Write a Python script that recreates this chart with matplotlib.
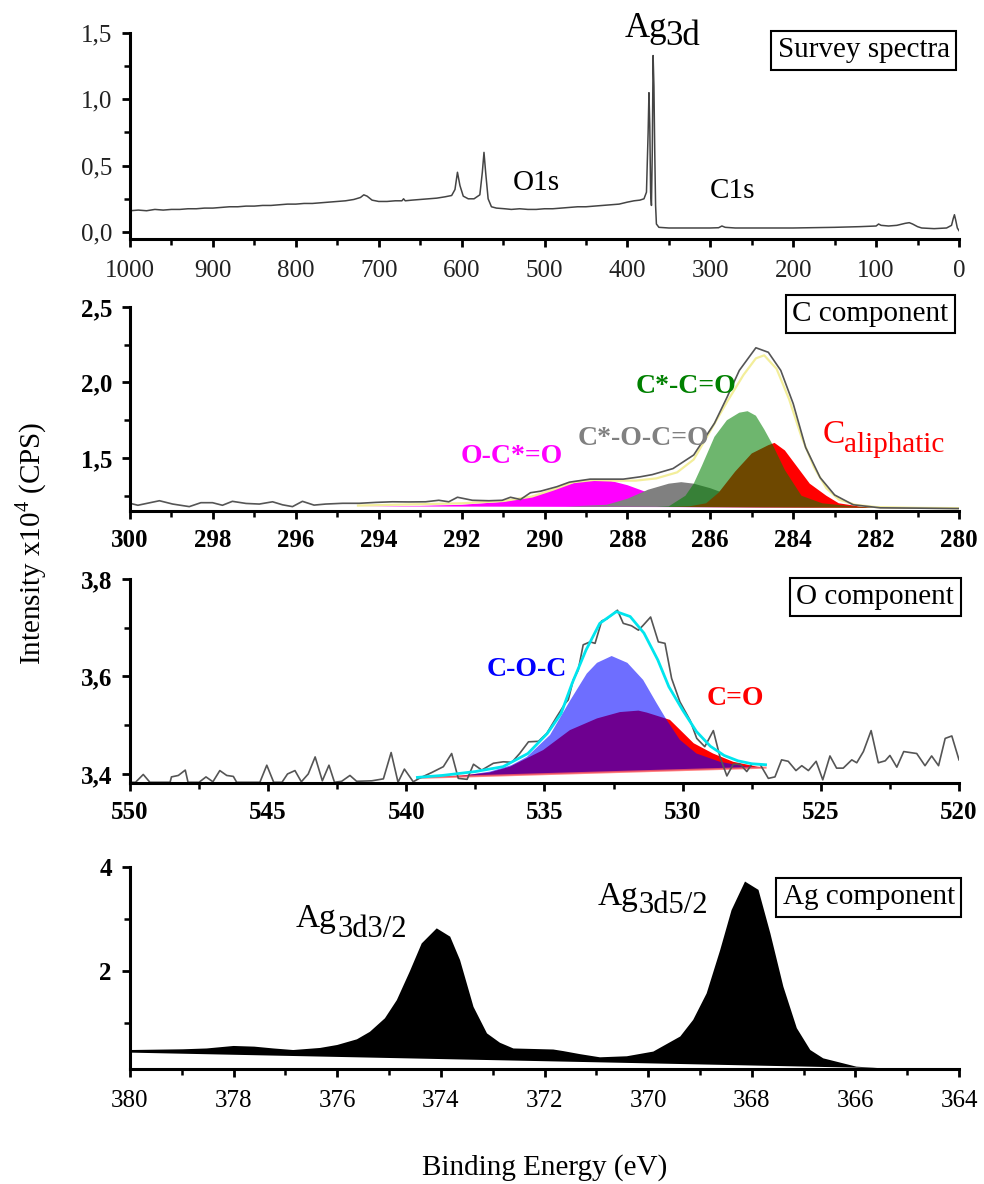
import numpy as np
import matplotlib
matplotlib.use('Agg')
import matplotlib.pyplot as plt
from matplotlib.ticker import MultipleLocator, FixedLocator

plt.rcParams['font.family'] = ['Liberation Serif', 'DejaVu Serif']
plt.rcParams['mathtext.fontset'] = 'custom'
plt.rcParams['mathtext.rm'] = 'Liberation Serif'

# ---- Survey spectrum
sv_x = [1000, 990, 980, 970, 960, 950, 940, 930, 920, 910, 900, 890, 880, 870, 860, 850,
        840, 830, 820, 810, 800, 790, 780, 770, 760, 750, 740, 730, 722, 718, 714, 708,
        700, 690, 680, 672, 670, 668, 660, 650, 640, 630, 620, 612, 608, 605, 602, 598,
        592, 585, 578, 575, 573, 571, 568, 564, 558, 548, 540, 530, 520, 510, 500, 490,
        480, 470, 460, 450, 440, 430, 420, 410, 400, 392, 385, 380, 377, 375, 374, 373,
        372, 371, 370, 369, 368, 367, 366, 365, 362, 350, 330, 300, 290, 286, 282, 270,
        250, 200, 150, 120, 100, 97, 94, 85, 75, 65, 60, 56, 50, 45, 30, 15, 9, 7, 5.5,
        4, 2, 0]
sv_y = [0.16, 0.165, 0.16, 0.17, 0.165, 0.17, 0.17, 0.175, 0.175, 0.18, 0.18, 0.185, 0.19,
        0.19, 0.195, 0.195, 0.20, 0.20, 0.205, 0.21, 0.21, 0.215, 0.215, 0.22, 0.225, 0.23,
        0.235, 0.245, 0.26, 0.28, 0.27, 0.24, 0.23, 0.23, 0.235, 0.235, 0.25, 0.235, 0.24,
        0.245, 0.25, 0.255, 0.265, 0.275, 0.32, 0.45, 0.35, 0.27, 0.25, 0.25, 0.28, 0.45,
        0.60, 0.45, 0.25, 0.19, 0.18, 0.175, 0.17, 0.175, 0.17, 0.17, 0.175, 0.175, 0.18,
        0.185, 0.19, 0.19, 0.195, 0.20, 0.205, 0.21, 0.225, 0.235, 0.24, 0.25, 0.30, 0.75,
        1.05, 0.80, 0.30, 0.20, 0.60, 1.33, 1.10, 0.60, 0.20, 0.06, 0.035, 0.03, 0.03, 0.03,
        0.032, 0.045, 0.035, 0.03, 0.03, 0.03, 0.035, 0.04, 0.045, 0.06, 0.05, 0.045, 0.05,
        0.065, 0.07, 0.06, 0.04, 0.03, 0.025, 0.03, 0.05, 0.10, 0.13, 0.09, 0.03, 0.01]

# ---- C 1s region
c_raw_x = [300.0, 299.81, 299.29, 298.97, 298.57, 298.29, 298.01, 297.77, 297.53, 297.2,
           296.88, 296.56, 296.32, 296.08, 295.84, 295.56, 295.28, 294.87, 294.47, 294.07,
           293.67, 293.27, 292.87, 292.55, 292.31, 292.1, 291.74, 291.34, 291.02, 290.82,
           290.58, 290.34, 290.1, 289.7, 289.4, 288.9, 288.5, 288.1, 287.7, 287.4, 286.9,
           286.4, 285.9, 285.6, 285.3, 284.9, 284.6, 284.3, 284.0, 283.7, 283.35, 283.0,
           282.55, 281.9, 281.0, 280.0]
c_raw_y = [1.20, 1.187, 1.217, 1.195, 1.178, 1.204, 1.204, 1.187, 1.213, 1.199, 1.195,
           1.21, 1.19, 1.178, 1.213, 1.188, 1.195, 1.20, 1.20, 1.206, 1.21, 1.209, 1.21,
           1.22, 1.21, 1.24, 1.22, 1.217, 1.22, 1.24, 1.225, 1.27, 1.28, 1.31, 1.34, 1.36,
           1.36, 1.36, 1.375, 1.39, 1.43, 1.52, 1.73, 1.90, 2.08, 2.23, 2.20, 2.08, 1.86,
           1.57, 1.37, 1.255, 1.19, 1.17, 1.168, 1.165]
c_fit_x = [294.5, 292.0, 291.0, 290.3, 289.8, 289.3, 288.8, 288.3, 287.8, 287.3, 286.8,
           286.4, 286.0, 285.6, 285.2, 284.9, 284.7, 284.4, 284.1, 283.8, 283.5, 283.2,
           282.9, 282.5, 282.0, 281.0, 280.0]
c_fit_y = [1.185, 1.20, 1.215, 1.245, 1.29, 1.34, 1.355, 1.35, 1.35, 1.365, 1.405, 1.49,
           1.68, 1.87, 2.05, 2.16, 2.18, 2.09, 1.89, 1.64, 1.44, 1.30, 1.225, 1.19, 1.175,
           1.17, 1.168]
ocoo_x = [294.5, 293.0, 292.0, 291.0, 290.5, 290.0, 289.5, 289.0, 288.8, 288.5, 288.0,
          287.5, 287.0, 286.5, 286.0, 285.0, 283.0]
ocoo_y = [1.18, 1.183, 1.19, 1.21, 1.235, 1.27, 1.32, 1.355, 1.36, 1.355, 1.32, 1.27,
          1.225, 1.195, 1.182, 1.176, 1.172]
coco_x = [289.5, 288.5, 288.0, 287.5, 287.0, 286.7, 286.4, 286.0, 285.5, 285.0, 284.5,
          284.0, 283.0]
coco_y = [1.178, 1.19, 1.23, 1.29, 1.33, 1.34, 1.33, 1.30, 1.25, 1.21, 1.19, 1.178, 1.172]
caliph_x = [287.0, 286.5, 286.1, 285.8, 285.4, 285.0, 284.6, 284.45, 284.2, 283.9, 283.6,
            283.2, 282.9, 282.3, 281.0, 280.0]
caliph_y = [1.176, 1.18, 1.20, 1.27, 1.41, 1.53, 1.585, 1.60, 1.55, 1.44, 1.33, 1.25,
            1.20, 1.175, 1.168, 1.166]
ccco_x = [287.3, 287.0, 286.6, 286.4, 286.2, 285.9, 285.6, 285.3, 285.1, 284.9, 284.7,
          284.5, 284.2, 283.8, 283.3, 282.5, 281.0]
ccco_y = [1.176, 1.18, 1.25, 1.33, 1.45, 1.64, 1.75, 1.80, 1.81, 1.78, 1.69, 1.59, 1.42,
          1.25, 1.20, 1.178, 1.17]

# ---- O 1s region
o_raw_x = [550.0, 549.8, 549.52, 549.28, 548.55, 548.5, 548.25, 548.0, 547.9, 547.5,
           547.25, 547.0, 546.75, 546.5, 546.26, 546.14, 545.3, 545.05, 544.8, 544.5,
           544.3, 544.03, 543.8, 543.55, 543.3, 543.04, 542.8, 542.6, 542.34, 542.04,
           541.8, 541.25, 540.83, 540.55, 540.3, 540.07, 539.75, 539.5, 539.08, 538.66,
           538.36, 538.12, 537.8, 537.57, 537.27, 536.85, 536.49, 536.18, 535.9, 535.58,
           535.22, 534.92, 534.56, 534.25, 534.14, 533.96, 533.78, 533.6, 533.35, 533.17,
           532.93, 532.75, 532.36, 532.15, 531.85, 531.6, 531.43, 531.16, 530.88, 530.64,
           530.4, 530.1, 529.73, 529.49, 529.2, 528.89, 528.65, 528.4, 528.17, 527.92,
           527.68, 527.5, 527.2, 526.9, 526.66, 526.42, 526.18, 525.9, 525.69, 525.45,
           525.17, 524.93, 524.67, 524.43, 524.19, 523.88, 523.7, 523.46, 523.18, 522.92,
           522.67, 522.5, 522.25, 522.0, 521.77, 521.53, 521.23, 520.99, 520.74, 520.5,
           520.26, 520.0]
o_raw_y = [3.383, 3.383, 3.399, 3.383, 3.383, 3.394, 3.397, 3.408, 3.383, 3.383, 3.394,
           3.384, 3.407, 3.397, 3.395, 3.383, 3.383, 3.418, 3.383, 3.383, 3.40, 3.407,
           3.384, 3.40, 3.435, 3.386, 3.418, 3.383, 3.385, 3.397, 3.385, 3.386, 3.39,
           3.444, 3.383, 3.41, 3.384, 3.392, 3.403, 3.415, 3.442, 3.391, 3.389, 3.42,
           3.408, 3.422, 3.425, 3.424, 3.442, 3.466, 3.467, 3.483, 3.517, 3.545, 3.552,
           3.593, 3.613, 3.665, 3.671, 3.668, 3.714, 3.718, 3.736, 3.709, 3.704, 3.695,
           3.705, 3.722, 3.671, 3.668, 3.596, 3.548, 3.51, 3.473, 3.456, 3.489, 3.435,
           3.396, 3.42, 3.42, 3.405, 3.42, 3.42, 3.391, 3.394, 3.429, 3.426, 3.407, 3.417,
           3.407, 3.426, 3.388, 3.437, 3.412, 3.412, 3.429, 3.423, 3.446, 3.489, 3.423,
           3.427, 3.438, 3.414, 3.446, 3.444, 3.442, 3.417, 3.437, 3.417, 3.473, 3.478,
           3.429]
o_fit_x = [539.6, 538.7, 537.5, 536.5, 535.6, 534.9, 534.4, 534.0, 533.5, 533.0, 532.4,
           531.9, 531.4, 530.9, 530.5, 530.0, 529.5, 529.0, 528.5, 528.0, 527.5, 527.0]
o_fit_y = [3.393, 3.397, 3.405, 3.415, 3.442, 3.483, 3.524, 3.586, 3.654, 3.709, 3.733,
           3.723, 3.689, 3.634, 3.579, 3.531, 3.487, 3.457, 3.438, 3.427, 3.421, 3.419]
o_base_x = [539.6, 527.0]
o_base_y = [3.392, 3.413]
co_x = [539.6, 538.0, 537.0, 536.25, 535.05, 534.08, 533.1, 532.27, 531.6, 531.3, 530.46,
        529.6, 528.9, 528.17, 527.3, 527.0]
co_y = [3.392, 3.397, 3.403, 3.415, 3.449, 3.49, 3.514, 3.527, 3.53, 3.526, 3.511, 3.463,
        3.442, 3.425, 3.415, 3.413]
coc_x = [539.6, 538.0, 536.97, 536.2, 535.64, 534.8, 534.08, 533.47, 533.1, 532.57, 532.0,
         531.43, 530.94, 530.58, 530.1, 529.5, 528.65, 527.7, 527.0]
coc_y = [3.392, 3.396, 3.405, 3.418, 3.435, 3.48, 3.55, 3.606, 3.628, 3.642, 3.628, 3.593,
         3.545, 3.511, 3.47, 3.442, 3.425, 3.415, 3.413]

# ---- Ag 3d region
ag_x = [380.0, 378.98, 378.52, 378.0, 377.6, 377.23, 376.85, 376.33, 376.0, 375.62,
        375.37, 375.08, 374.85, 374.6, 374.37, 374.08, 373.82, 373.63, 373.37, 373.11,
        372.86, 372.6, 371.83, 371.64, 371.31, 370.93, 370.41, 369.9, 369.38, 369.13,
        368.87, 368.61, 368.39, 368.13, 367.87, 367.64, 367.39, 367.13, 366.87, 366.62,
        365.98, 365.2, 364.0]
ag_y = [0.48, 0.494, 0.51, 0.558, 0.545, 0.51, 0.48, 0.52, 0.577, 0.686, 0.83, 1.09, 1.44,
        1.99, 2.53, 2.82, 2.66, 2.21, 1.31, 0.80, 0.62, 0.51, 0.49, 0.46, 0.40, 0.34, 0.36,
        0.45, 0.74, 1.06, 1.57, 2.40, 3.17, 3.72, 3.56, 2.72, 1.70, 0.90, 0.48, 0.32, 0.16,
        0.11, 0.10]
ag_base_x = [364.0, 380.0]
ag_base_y = [0.10, 0.43]

fig = plt.figure(figsize=(9.84, 11.84), dpi=100)
W, H = 984.0, 1184.0


def make_ax(top, bottom):
    ax = fig.add_axes([130 / W, 1 - bottom / H, 829 / W, (bottom - top) / H])
    for s in ['top', 'right']:
        ax.spines[s].set_visible(False)
    for s in ['left', 'bottom']:
        ax.spines[s].set_linewidth(2.2)
    ax.tick_params(which='major', direction='out', length=6, width=2, labelsize=18, pad=7)
    ax.tick_params(which='minor', direction='out', length=4, width=1.8)
    return ax


def set_ticks(ax, xt, yt, ylab, bold_x=True, bold_y=True, color='black'):
    ax.xaxis.set_major_locator(FixedLocator(xt))
    ax.set_xticklabels([('%g' % v) for v in xt], fontweight='bold' if bold_x else 'normal',
                       color=color)
    ax.yaxis.set_major_locator(FixedLocator(yt))
    ax.set_yticklabels(ylab, fontweight='bold' if bold_y else 'normal', color=color)


def box(ax, x, y, s):
    ax.text(x, y, s, transform=ax.transAxes, ha='center', va='center', fontsize=21,
            bbox=dict(boxstyle='square,pad=0.22', fc='white', ec='black', lw=1.5))


# Survey
ax1 = make_ax(33, 239)
ax1.plot(sv_x, sv_y, color='#444444', lw=1.1)
ax1.set_xlim(1000, 0)
ax1.set_ylim(-0.053, 1.5)
set_ticks(ax1, [1000, 900, 800, 700, 600, 500, 400, 300, 200, 100, 0],
          [0.0, 0.5, 1.0, 1.5], ['0,0', '0,5', '1,0', '1,5'],
          bold_x=False, bold_y=False, color='#222222')
ax1.tick_params(axis='x', pad=9)
ax1.xaxis.set_minor_locator(MultipleLocator(50))
ax1.yaxis.set_minor_locator(MultipleLocator(0.25))
ax1.text(402.9, 1.47, 'Ag', fontsize=25, clip_on=False)
ax1.text(354.6, 1.41, '3d', fontsize=25, clip_on=False)
ax1.text(538, 0.317, 'O1s', fontsize=21)
ax1.text(300.4, 0.256, 'C1s', fontsize=21)
box(ax1, 0.885, 0.917, 'Survey spectra')

# C component
ax2 = make_ax(307, 511)
ax2.fill(ocoo_x, ocoo_y, color='#ff00ff', lw=0)
ax2.fill(coco_x, coco_y, color='#808080', lw=0)
ax2.fill(caliph_x, caliph_y, color='#ff0000', lw=0)
ax2.fill(ccco_x, ccco_y, color='#008000', alpha=0.57, lw=0)
ax2.plot(c_fit_x, c_fit_y, color='#f3ee9a', lw=1.6)
ax2.plot(c_raw_x, c_raw_y, color='#555555', lw=1.2)
ax2.set_xlim(300, 280)
ax2.set_ylim(1.149, 2.5)
set_ticks(ax2, list(range(300, 279, -2)), [1.5, 2.0, 2.5], ['1,5', '2,0', '2,5'])
ax2.xaxis.set_minor_locator(MultipleLocator(1))
ax2.yaxis.set_minor_locator(MultipleLocator(0.25))
ax2.text(292.02, 1.467, 'O-C*=O', color='#ff00ff', fontsize=20, fontweight='bold')
ax2.text(289.2, 1.586, 'C*-O-C=O', color='#808080', fontsize=20, fontweight='bold')
ax2.text(287.81, 1.93, 'C*-C=O', color='#008000', fontsize=20, fontweight='bold')
ax2.text(283.28, 1.60, 'C', color='#ff0000', fontsize=24)
ax2.text(282.78, 1.54, 'aliphatic', color='#ff0000', fontsize=21)
box(ax2, 0.893, 0.966, 'C component')

# O component
ax3 = make_ax(579, 783)
ax3.fill(co_x, co_y, color='#ff0000', lw=0)
ax3.fill(coc_x, coc_y, color='#0000ff', alpha=0.57, lw=0)
ax3.plot(o_base_x, o_base_y, color='#ff6060', lw=1.5, alpha=0.8)
ax3.plot(o_raw_x, o_raw_y, color='#555555', lw=1.2)
ax3.plot(o_fit_x, o_fit_y, color='#00e5ee', lw=2)
ax3.set_xlim(550, 520)
ax3.set_ylim(3.3815, 3.8)
set_ticks(ax3, list(range(550, 519, -5)), [3.4, 3.6, 3.8], ['3,4', '3,6', '3,8'])
ax3.xaxis.set_minor_locator(MultipleLocator(2.5))
ax3.yaxis.set_minor_locator(MultipleLocator(0.1))
ax3.text(537.09, 3.601, 'C-O-C', color='#0000ff', fontsize=20, fontweight='bold')
ax3.text(529.13, 3.5415, 'C=O', color='#ff0000', fontsize=20, fontweight='bold')
box(ax3, 0.899, 0.912, 'O component')

# Ag component
ax4 = make_ax(867, 1069)
ax4.fill(ag_x + ag_base_x, ag_y + ag_base_y, color='black', lw=0)
ax4.set_xlim(380, 364)
ax4.set_ylim(0.115, 4)
set_ticks(ax4, list(range(380, 363, -2)), [2, 4], ['2', '4'], bold_x=False)
ax4.tick_params(axis='x', pad=9)
ax4.xaxis.set_minor_locator(MultipleLocator(1))
ax4.yaxis.set_minor_locator(MultipleLocator(1))
ax4.text(376.81, 2.85, 'Ag', fontsize=24)
ax4.text(376.0, 2.66, '3d3/2', fontsize=22)
ax4.text(370.98, 3.27, 'Ag', fontsize=24)
ax4.text(370.19, 3.11, '3d5/2', fontsize=22)
box(ax4, 0.891, 0.851, 'Ag component')

fig.text(31 / W, 1 - 543 / H, 'Intensity x10$^4$ (CPS)', rotation=90, fontsize=21,
         ha='center', va='center')
fig.text(545 / W, 1 - 1175 / H, 'Binding Energy (eV)', fontsize=21, ha='center',
         va='baseline')

fig.savefig('out.png', dpi=100)
